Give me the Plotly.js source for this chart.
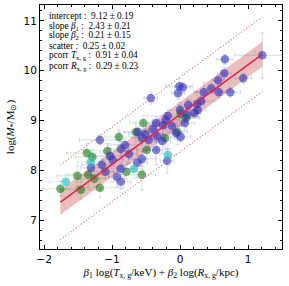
<!DOCTYPE html>
<html><head><meta charset="utf-8">
<script src="https://cdn.plot.ly/plotly-3.0.1.min.js"></script>
<style>html,body{margin:0;padding:0;background:#fff}</style>
</head><body><div id="c" style="width:289px;height:286px"></div>
<script>
// Blue sample
const blueX = [1.21,0.66,0.65,0.56,0.93,0.46,0.35,0.57,0.74,-0.01,0.04,-0.03,-0.43,0.31,0.25,0.12,0.26,0.21,0.00,0.07,-0.18,-0.21,-0.35,-0.25,-0.12,-0.40,-0.06,0.01,-0.26,-0.34,-0.51,-0.56,-0.35,-0.46,-0.81,-0.87,-1.18,-1.03,-0.99,-0.75,-0.56,-0.63,-0.19,-1.15,-1.31,-0.87,-0.93,-0.87,-1.10,-0.62,0.10];
const blueY = [10.31,10.23,9.95,9.81,9.85,9.65,9.57,9.57,9.57,9.69,9.67,9.55,9.45,9.39,9.33,9.31,9.21,9.15,9.21,8.95,9.09,9.01,8.95,8.91,8.89,8.83,8.75,8.67,8.59,8.69,8.73,8.65,8.41,8.61,8.51,8.43,8.61,8.29,8.21,8.33,8.23,8.15,8.19,8.11,8.05,8.03,7.87,7.77,7.97,8.77,9.11];
const blueEX = [0.40,0.12,0.10,0.08,0.12,0.10,0.15,0.10,0.15,0.20,0.12,0.10,0.10,0.20,0.10,0.15,0.12,0.10,0.15,0.15,0.30,0.20,0.12,0.25,0.15,0.20,0.10,0.15,0.12,0.10,0.25,0.15,0.20,0.15,0.25,0.20,0.30,0.25,0.15,0.12,0.20,0.15,0.10,0.30,0.15,0.20,0.12,0.15,0.12,0.20,0.10];
const blueEY = [0.45,0.10,0.12,0.10,0.10,0.10,0.20,0.12,0.10,0.15,0.10,0.12,0.12,0.10,0.25,0.12,0.15,0.10,0.15,0.15,0.12,0.15,0.12,0.20,0.10,0.15,0.12,0.10,0.25,0.12,0.15,0.10,0.30,0.20,0.12,0.15,0.10,0.15,0.12,0.20,0.15,0.30,0.25,0.12,0.15,0.12,0.20,0.15,0.12,0.10,0.15];
// Green sample
const greenX = [-0.54,-0.65,-0.90,-0.49,-1.07,-1.37,-1.29,0.01,0.09,-0.04,-0.22,-0.79,-0.56,-1.51,-1.26,-1.76,-1.46,-1.18,-1.35];
const greenY = [8.95,8.77,8.67,8.41,8.39,8.35,8.27,9.13,9.05,8.77,8.65,7.97,7.91,7.89,7.83,7.63,7.61,7.65,7.91];
const greenEX = [0.20,0.25,0.30,0.15,0.35,0.30,0.25,0.15,0.20,0.15,0.20,0.25,0.20,0.30,0.30,0.25,0.30,0.35,0.30];
const greenEY = [0.15,0.20,0.15,0.20,0.15,0.20,0.15,0.15,0.20,0.25,0.20,0.15,0.30,0.20,0.15,0.15,0.20,0.20,0.25];
// Cyan sample
const cyanX = [-1.31,-0.18,-0.68,-1.68];
const cyanY = [8.17,8.31,8.03,7.77];
const cyanEX = [0.20,0.12,0.15,0.25];
const cyanEY = [0.15,0.20,0.20,0.15];
// Fit
const intercept = 9.12;
const scatter = 0.25;
const fitX = [-1.76, 1.21];
const fitY = [7.36, 10.33];
const outerOffset = 0.75;

const statLines = [
  "intercept :  9.12 ± 0.19",
  "slope <i>β</i><sub>1</sub> :  2.43 ± 0.21",
  "slope <i>β</i><sub>2</sub> :  0.21 ± 0.15",
  "scatter :  0.25 ± 0.02",
  "pcorr <i>T</i><sub>x, g</sub> :  0.91 ± 0.04",
  "pcorr <i>R</i><sub>x, g</sub> :  0.29 ± 0.23"
];

function pts(x,y,ex,ey,col,ecol){
  return {x:x,y:y,type:'scatter',mode:'markers',
    marker:{size:8.5,color:col,line:{width:0}},
    error_x:{type:'data',array:ex,visible:true,color:ecol,thickness:1,width:2},
    error_y:{type:'data',array:ey,visible:true,color:ecol,thickness:1,width:2},
    showlegend:false,hoverinfo:'skip'};
}
const up = fitY.map(v=>v+scatter), lo = fitY.map(v=>v-scatter);
const traces = [
  {x:fitX,y:lo,mode:'lines',line:{width:0},showlegend:false,hoverinfo:'skip'},
  {x:fitX,y:up,mode:'lines',line:{width:0},fill:'tonexty',fillcolor:'rgba(205,92,92,0.4)',showlegend:false,hoverinfo:'skip'},
  pts(greenX,greenY,greenEX,greenEY,'rgba(34,125,34,0.62)','rgba(34,139,34,0.2)'),
  pts(blueX,blueY,blueEX,blueEY,'rgba(45,45,185,0.6)','rgba(60,60,200,0.2)'),
  pts(cyanX,cyanY,cyanEX,cyanEY,'rgba(40,190,190,0.65)','rgba(40,190,190,0.2)'),
  {x:fitX,y:fitY.map(v=>v+outerOffset),mode:'lines',line:{color:'#d46a6a',width:1.2,dash:'1px,2.2px'},showlegend:false,hoverinfo:'skip'},
  {x:fitX,y:fitY.map(v=>v-outerOffset),mode:'lines',line:{color:'#d46a6a',width:1.2,dash:'1px,2.2px'},showlegend:false,hoverinfo:'skip'},
  {x:fitX,y:fitY,mode:'lines',line:{color:'#e0204a',width:1.5},showlegend:false,hoverinfo:'skip'}
];
const ax = {showgrid:false,zeroline:false,showline:true,linecolor:'#000',linewidth:1,mirror:'ticks',
  ticks:'inside',ticklen:4,tickcolor:'#000',tickwidth:1,
  tickfont:{family:'DejaVu Sans',size:10.5,color:'#000'}};
const ann = statLines.map((t,i)=>({xref:'paper',yref:'paper',x:0.029,y:(249-(16+i*10))/244,
  xanchor:'left',yanchor:'middle',showarrow:false,text:t,
  font:{family:'Liberation Serif',size:9.3,color:'#000'}}));
const layout = {width:289,height:286,margin:{l:40,r:7,t:5,b:37},
  paper_bgcolor:'#fff',plot_bgcolor:'#fff',showlegend:false,
  xaxis:Object.assign({},ax,{range:[-2.06,1.5],tick0:-2,dtick:1,
    minor:{ticks:'inside',ticklen:2,tick0:-2,dtick:0.2,tickcolor:'#000'},
    title:{text:'<i>β</i><sub>1</sub> log(<i>T</i><sub>x, g</sub>/keV) + <i>β</i><sub>2</sub> log(<i>R</i><sub>x, g</sub>/kpc)',
      font:{family:'Liberation Serif',size:11,color:'#000'},standoff:4}}),
  yaxis:Object.assign({},ax,{range:[6.42,11.32],tick0:7,dtick:1,
    minor:{ticks:'inside',ticklen:2,tick0:7,dtick:0.2,tickcolor:'#000'},
    title:{text:'log(<i>M</i><sub>*</sub>/M<sub>⊙</sub>)',
      font:{family:'Liberation Serif',size:11,color:'#000'},standoff:6}}),
  annotations:ann};
Plotly.newPlot('c',traces,layout,{staticPlot:true,displayModeBar:false});
</script></body></html>
